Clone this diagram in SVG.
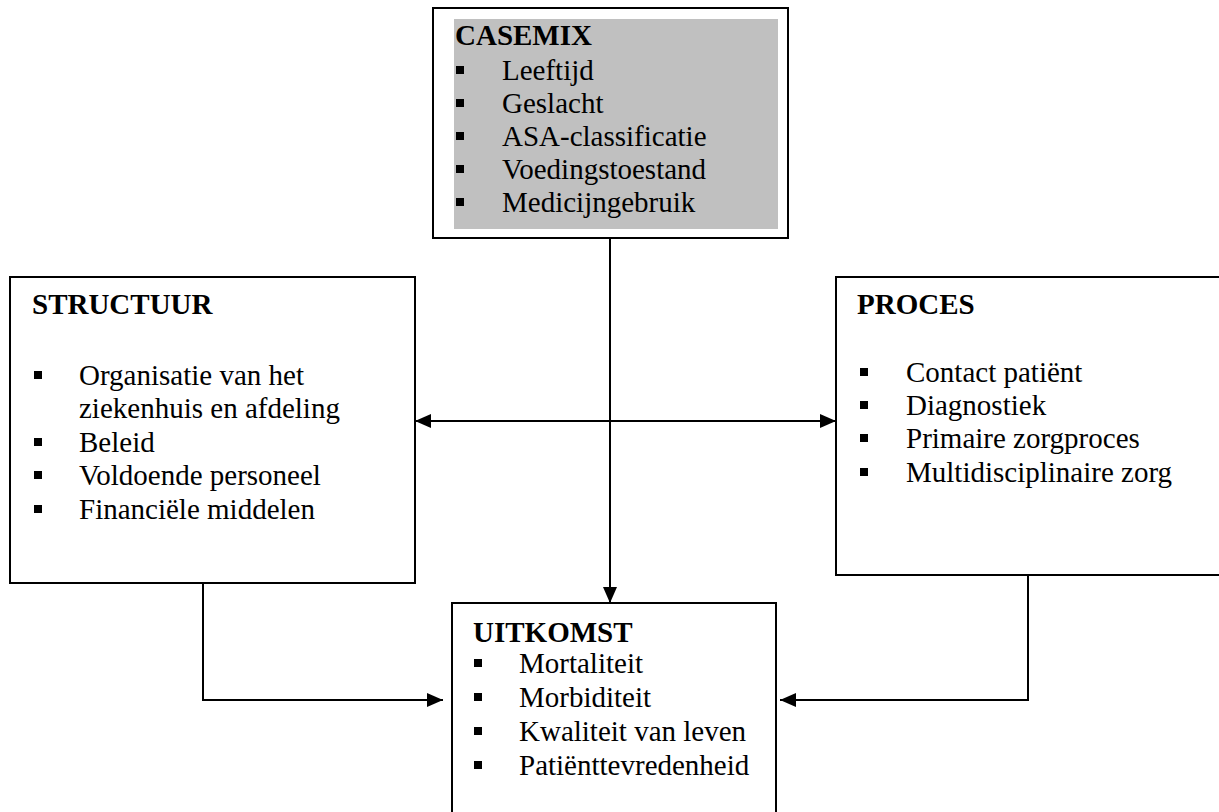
<svg xmlns="http://www.w3.org/2000/svg" width="1219" height="812" viewBox="0 0 1219 812" font-family="Liberation Serif" font-size="29">
<defs>
<style>
.box{fill:#ffffff;stroke:#000000;stroke-width:2}
.shade{fill:#c0c0c0;stroke:none}
.h{font-weight:bold}
.b{fill:#000000}
.c{fill:none;stroke:#000000;stroke-width:2}
</style>
<marker id="ah" markerUnits="userSpaceOnUse" markerWidth="16" markerHeight="14" refX="16" refY="7" orient="auto-start-reverse">
<path d="M0,0 L16,7 L0,14 z" fill="#000000"/>
</marker>
</defs>
<rect width="1219" height="812" fill="#ffffff"/>
<g id="connectors">
<path class="c" d="M610,238 L610,603" marker-end="url(#ah)"/>
<path class="c" d="M415,421 L836,421" marker-start="url(#ah)" marker-end="url(#ah)"/>
<path class="c" d="M203,583 L203,700 L443,700" marker-end="url(#ah)"/>
<path class="c" d="M1028,575 L1028,700 L780,700" marker-end="url(#ah)"/>
</g>
<g id="casemix">
<rect class="box" x="433" y="8" width="355" height="230"/>
<rect class="shade" x="454" y="19" width="324" height="210"/>
<text class="h" x="455" y="45">CASEMIX</text>
<rect class="b" x="456" y="66" width="8" height="8"/>
<text x="502" y="80">Leeftijd</text>
<rect class="b" x="456" y="99" width="8" height="8"/>
<text x="502" y="113">Geslacht</text>
<rect class="b" x="456" y="132" width="8" height="8"/>
<text x="502" y="146">ASA-classificatie</text>
<rect class="b" x="456" y="165" width="8" height="8"/>
<text x="502" y="179">Voedingstoestand</text>
<rect class="b" x="456" y="198" width="8" height="8"/>
<text x="502" y="212">Medicijngebruik</text>
</g>
<g id="structuur">
<rect class="box" x="10" y="277" width="405" height="306"/>
<text class="h" x="32" y="314">STRUCTUUR</text>
<rect class="b" x="34" y="371" width="8" height="8"/>
<text x="79" y="385">Organisatie van het</text>
<text x="79" y="418">ziekenhuis en afdeling</text>
<rect class="b" x="34" y="438" width="8" height="8"/>
<text x="79" y="452">Beleid</text>
<rect class="b" x="34" y="471" width="8" height="8"/>
<text x="79" y="485">Voldoende personeel</text>
<rect class="b" x="34" y="505" width="8" height="8"/>
<text x="79" y="519">Financiële middelen</text>
</g>
<g id="proces">
<rect class="box" x="836" y="277" width="400" height="298"/>
<text class="h" x="857" y="314">PROCES</text>
<rect class="b" x="860" y="368" width="8" height="8"/>
<text x="906" y="382">Contact patiënt</text>
<rect class="b" x="860" y="401" width="8" height="8"/>
<text x="906" y="415">Diagnostiek</text>
<rect class="b" x="860" y="434" width="8" height="8"/>
<text x="906" y="448">Primaire zorgproces</text>
<rect class="b" x="860" y="468" width="8" height="8"/>
<text x="906" y="482">Multidisciplinaire zorg</text>
</g>
<g id="uitkomst">
<rect class="box" x="452" y="603" width="324" height="230"/>
<text class="h" x="473" y="642">UITKOMST</text>
<rect class="b" x="474" y="659" width="8" height="8"/>
<text x="519" y="673">Mortaliteit</text>
<rect class="b" x="474" y="693" width="8" height="8"/>
<text x="519" y="707">Morbiditeit</text>
<rect class="b" x="474" y="727" width="8" height="8"/>
<text x="519" y="741">Kwaliteit van leven</text>
<rect class="b" x="474" y="761" width="8" height="8"/>
<text x="519" y="775">Patiënttevredenheid</text>
</g>
</svg>
